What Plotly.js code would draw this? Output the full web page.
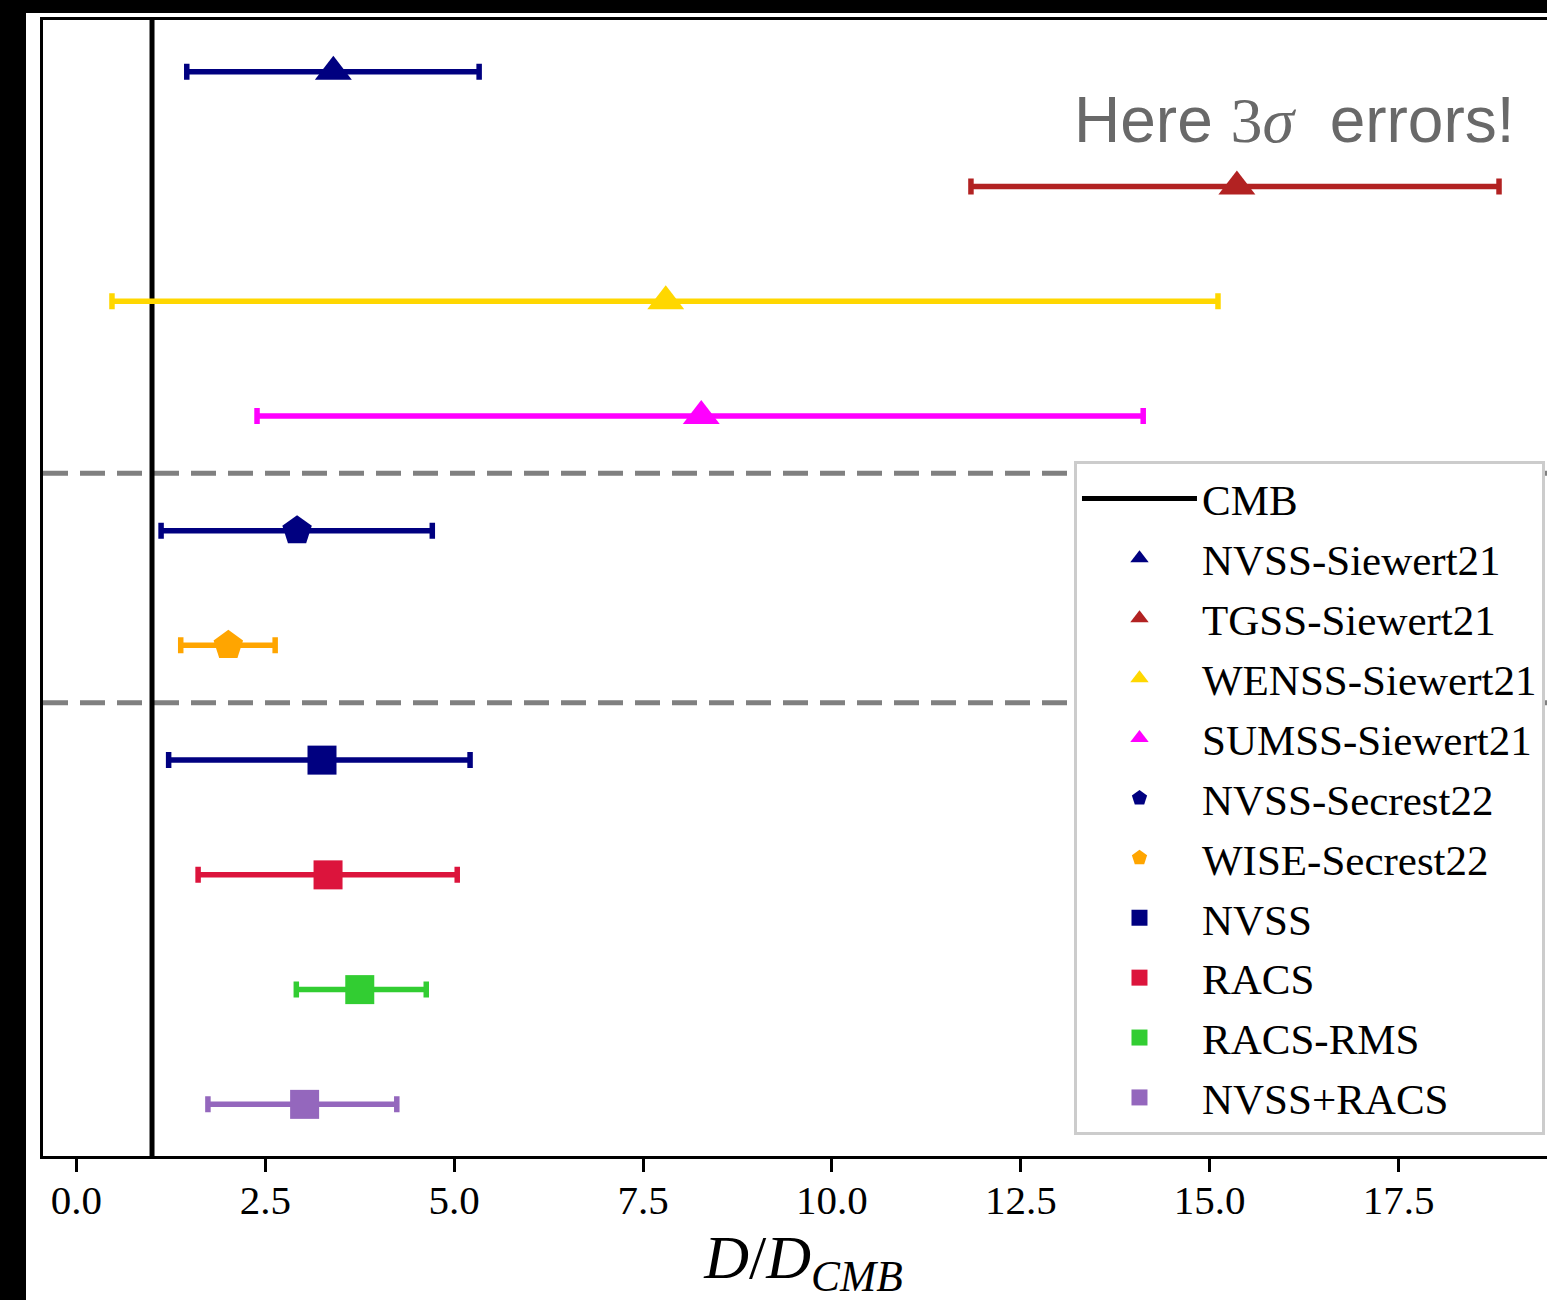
<!DOCTYPE html>
<html>
<head>
<meta charset="utf-8">
<script src="https://cdn.plot.ly/plotly-3.0.1.min.js"></script>
<style>
  html, body { margin: 0; padding: 0; background: #000; overflow: hidden; width: 1547px; height: 1300px; }
  #chart { position: absolute; left: 26px; top: 13px; width: 1538px; height: 1287px; background: #fff; }
</style>
</head>
<body>
<div id="chart"></div>
<script>
// ---- data ----
const names = ["NVSS-Siewert21", "TGSS-Siewert21", "WENSS-Siewert21", "SUMSS-Siewert21",
               "NVSS-Secrest22", "WISE-Secrest22", "NVSS", "RACS", "RACS-RMS", "NVSS+RACS"];
const centers = [3.40, 15.36, 7.80, 8.27, 2.92, 2.01, 3.25, 3.33, 3.75, 3.02];
const errLow  = [1.94, 3.52, 7.33, 5.88, 1.80, 0.63, 2.03, 1.72, 0.84, 1.28];
const errHigh = [1.93, 3.47, 7.31, 5.85, 1.79, 0.62, 1.96, 1.71, 0.88, 1.22];
const colors  = ["#000080", "#b22222", "#ffd700", "#ff00ff", "#000080", "#ffa500",
                 "#000080", "#dc143c", "#32cd32", "#9467bd"];
const symbols = ["triangle-up", "triangle-up", "triangle-up", "triangle-up",
                 "pentagon", "pentagon", "square", "square", "square", "square"];
const cmbValue = 1.0;
const separators = [6.5, 4.5];   // between groups of rows
const xTicks = [0, 2.5, 5, 7.5, 10, 12.5, 15, 17.5];
const xTickText = ["0.0", "2.5", "5.0", "7.5", "10.0", "12.5", "15.0", "17.5"];

// ---- build ----
const n = names.length;
const yPos = names.map((_, i) => n - i);
const yRange = [0.55, n + 0.45];
const xRange = [-0.443, 19.69];

const traces = [];
traces.push({
  x: [cmbValue, cmbValue], y: [yRange[0] - 1, yRange[1] + 1],
  mode: "lines", name: "CMB", legendgroup: "CMB",
  line: { color: "#000", width: 5 }, hoverinfo: "skip"
});
names.forEach((nm, i) => {
  traces.push({
    x: [centers[i]], y: [yPos[i]], mode: "markers", name: nm, legendgroup: nm,
    marker: {
      symbol: symbols[i], color: colors[i],
      size: symbols[i] === "triangle-up" ? 32 : (symbols[i] === "pentagon" ? 31 : 29)
    },
    error_x: {
      type: "data", symmetric: false, array: [errHigh[i]], arrayminus: [errLow[i]],
      color: colors[i], thickness: 5.5, width: 8
    }
  });
});

const shapes = separators.map(v => ({
  type: "line", xref: "paper", x0: 0, x1: 1, yref: "y", y0: v, y1: v,
  line: { color: "#808080", width: 5, dash: "25px,12px" }, layer: "below"
}));

const serif = "Liberation Serif, Times New Roman, serif";

const layout = {
  width: 1538, height: 1287,
  margin: { l: 17, r: 0, t: 7, b: 144 },
  paper_bgcolor: "#fff", plot_bgcolor: "#fff",
  showlegend: true,
  xaxis: {
    range: xRange, tickmode: "array", tickvals: xTicks, ticktext: xTickText,
    ticks: "outside", ticklen: 13, tickwidth: 3, tickcolor: "#000",
    showline: true, linecolor: "#000", linewidth: 3, mirror: true,
    showgrid: false, zeroline: false, ticklabelstandoff: -7,
    tickfont: { family: serif, size: 41, color: "#000" },
    title: { text: "<i>D</i>/<i>D</i><sub><i>CMB</i></sub>", font: { family: serif, size: 62, color: "#000" }, standoff: 10 }
  },
  yaxis: {
    range: yRange, showticklabels: false, ticks: "",
    showline: true, linecolor: "#000", linewidth: 3, mirror: true,
    showgrid: false, zeroline: false
  },
  legend: {
    x: 0.9875, xanchor: "right", y: 0.0185, yanchor: "bottom",
    bgcolor: "#fff", bordercolor: "#cccccc", borderwidth: 3,
    font: { family: serif, size: 43, color: "#000" },
    traceorder: "grouped", tracegroupgap: 1, itemwidth: 115
  },
  shapes: shapes,
  annotations: [{
    xref: "paper", yref: "paper", x: 0.969, y: 0.912, xanchor: "right", yanchor: "middle",
    showarrow: false,
    text: 'Here <span style="font-family:Liberation Serif"><span>3</span><i>σ</i></span>  errors!',
    font: { family: "Liberation Sans, Arial, sans-serif", size: 64, color: "#696969" }
  }]
};

Plotly.newPlot("chart", traces, layout, { displayModeBar: false, staticPlot: true });
</script>
</body>
</html>
